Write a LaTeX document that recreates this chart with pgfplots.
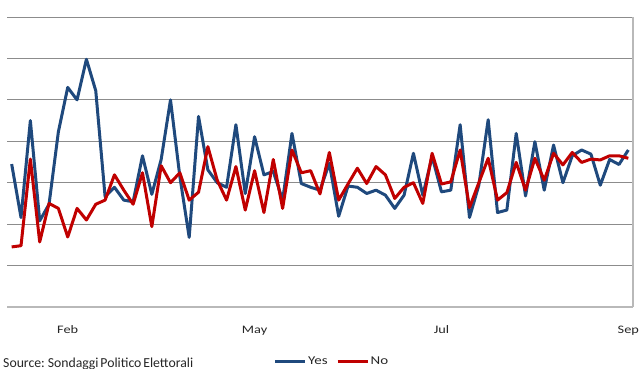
\documentclass[border=0pt]{standalone}
\usepackage{fontspec}
\setmainfont{Carlito}[FakeStretch=1.25]
\newfontfamily\srcfont{Carlito}[WordSpace=0.6]
\usepackage{pgfplots}
\pgfplotsset{compat=1.18}
\definecolor{yesblue}{RGB}{31,73,125}
\definecolor{nored}{RGB}{192,0,0}
\definecolor{gridgray}{RGB}{140,140,140}
\definecolor{axgray}{RGB}{185,185,185}
\begin{document}
\begin{tikzpicture}
\useasboundingbox (0,0) rectangle (639bp,369bp);
\begin{axis}[
  at={(7bp,62bp)}, anchor=south west,
  scale only axis, width=626bp, height=290bp,
  xmin=-0.5, xmax=66.5, ymin=0, ymax=7,
  axis x line*=bottom, axis y line*=right,
  axis line style={draw=axgray, line width=1.1bp},
  ytick={0,1,...,7}, yticklabels={},
  ymajorgrids, grid style={draw=gridgray, line width=0.8bp},
  xtick={6,26,46,66}, xticklabels={Feb,May,Jul,Sep},
  major tick length=0pt,
  xticklabel style={font=\fontsize{11.5}{12}\selectfont, anchor=base, yshift=-26bp, text=black!85},
  legend columns=2,
  legend style={draw=none, fill=none, at={(0.421,-0.188)}, anchor=west,
    font=\fontsize{12}{13}\selectfont, text=black!85,
    nodes={inner xsep=1.5bp, inner ysep=0pt},
    /tikz/every even column/.append style={column sep=7bp}},
  legend image code/.code={\draw[#1, line width=3bp] (0bp,0bp) -- (30bp,0bp);},
  every axis plot/.append style={line width=3bp, line join=round, mark=none},
]
\addplot[yesblue] coordinates {
(0,3.45) (1,2.16) (2,4.50) (3,2.08) (4,2.48) (5,4.23) (6,5.30) (7,5.00) (8,5.98) (9,5.22)
(10,2.66) (11,2.89) (12,2.58) (13,2.54) (14,3.65) (15,2.72) (16,3.56) (17,5.00) (18,3.15) (19,1.68)
(20,4.60) (21,3.31) (22,3.00) (23,2.89) (24,4.40) (25,2.74) (26,4.11) (27,3.19) (28,3.27) (29,2.58)
(30,4.19) (31,2.98) (32,2.89) (33,2.82) (34,3.47) (35,2.19) (36,2.92) (37,2.89) (38,2.74) (39,2.82)
(40,2.70) (41,2.38) (42,2.70) (43,3.71) (44,2.70) (45,3.63) (46,2.78) (47,2.82) (48,4.40) (49,2.16)
(50,2.94) (51,4.52) (52,2.28) (53,2.34) (54,4.19) (55,2.68) (56,3.99) (57,2.82) (58,3.91) (59,3.00)
(60,3.65) (61,3.79) (62,3.69) (63,2.94) (64,3.56) (65,3.44) (66,3.79)
};
\addlegendentry{Yes}
\addplot[nored] coordinates {
(0,1.45) (1,1.48) (2,3.57) (3,1.57) (4,2.50) (5,2.38) (6,1.69) (7,2.38) (8,2.10) (9,2.48)
(10,2.58) (11,3.19) (12,2.82) (13,2.48) (14,3.24) (15,1.94) (16,3.41) (17,3.00) (18,3.24) (19,2.58)
(20,2.77) (21,3.87) (22,3.06) (23,2.58) (24,3.39) (25,2.34) (26,3.29) (27,2.28) (28,3.56) (29,2.38)
(30,3.79) (31,3.24) (32,3.29) (33,2.73) (34,3.73) (35,2.58) (36,2.97) (37,3.35) (38,2.98) (39,3.39)
(40,3.19) (41,2.62) (42,2.89) (43,3.00) (44,2.50) (45,3.71) (46,2.97) (47,3.02) (48,3.79) (49,2.40)
(50,3.00) (51,3.59) (52,2.58) (53,2.76) (54,3.49) (55,2.82) (56,3.59) (57,3.06) (58,3.71) (59,3.43)
(60,3.73) (61,3.49) (62,3.57) (63,3.55) (64,3.65) (65,3.65) (66,3.59)
};
\addlegendentry{No}
\end{axis}
\node[anchor=base west, inner sep=0pt, font=\srcfont\fontsize{13.8}{14}\selectfont, text=black!85] at (3bp,2bp) {Source: Sondaggi Politico Elettorali};
\end{tikzpicture}
\end{document}
